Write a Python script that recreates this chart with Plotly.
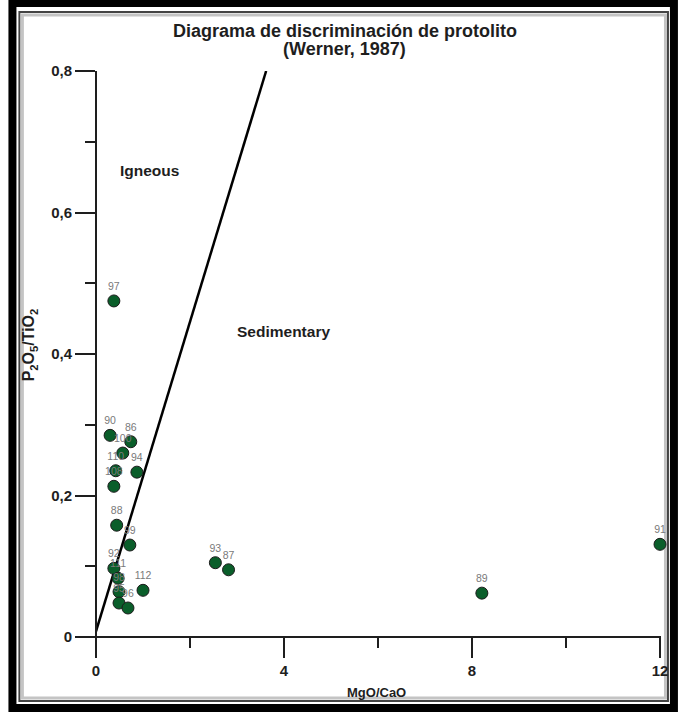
import plotly.graph_objects as go

# Sample ratios: MgO/CaO (x) and P2O5/TiO2 (y)
samples = ["97", "90", "86", "100", "110", "94", "108", "88", "99", "92",
           "111", "98", "95", "96", "112", "93", "87", "89", "91"]
mgo_cao = [0.38, 0.30, 0.74, 0.57, 0.42, 0.87, 0.38, 0.44, 0.72, 0.38,
           0.47, 0.49, 0.49, 0.68, 1.00, 2.54, 2.82, 8.21, 12.0]
p2o5_tio2 = [0.475, 0.285, 0.276, 0.260, 0.235, 0.233, 0.213, 0.158, 0.130, 0.097,
             0.083, 0.064, 0.048, 0.041, 0.066, 0.105, 0.095, 0.062, 0.131]

# Igneous / sedimentary discrimination boundary (Werner, 1987)
boundary_x = [0.0, 3.62]
boundary_y = [0.008, 0.80]

# Axis ticks
x_ticks = [0, 4, 8, 12]
y_ticks = [0, 0.2, 0.4, 0.6, 0.8]
y_tick_text = ["0", "0,2", "0,4", "0,6", "0,8"]

W, H = 680, 715
L, R, T, B = 96, 17, 71, 78
PW, PH = W - L - R, H - T - B


def px(xp):
    return (xp - L) / PW


def py(yp):
    return (H - B - yp) / PH


FONT = "Liberation Sans, Arial, sans-serif"
INK = "#1e1e1e"

fig = go.Figure()

fig.add_trace(go.Scatter(
    x=boundary_x, y=boundary_y, mode="lines",
    line=dict(color="black", width=2.5), hoverinfo="skip", showlegend=False,
))

fig.add_trace(go.Scatter(
    x=mgo_cao, y=p2o5_tio2, mode="markers+text",
    text=samples, textposition="top center",
    textfont=dict(family=FONT, size=10.5, color="#7a7a7a"),
    marker=dict(size=12, color="#0a5e2a", line=dict(color="#1c1c1c", width=1)),
    cliponaxis=False, showlegend=False,
))

axis_common = dict(
    showgrid=False, zeroline=False, showline=False,
    ticks="outside", tickwidth=2, tickcolor=INK, ticklen=20,
    tickfont=dict(family=FONT, size=15, color=INK, weight="bold"),
)

fig.update_xaxes(
    range=[0, 12], tickvals=x_ticks, ticktext=[str(v) for v in x_ticks],
    minor=dict(ticks="outside", dtick=2, tick0=0, ticklen=10, tickwidth=2, tickcolor=INK),
    **axis_common,
)
fig.update_yaxes(
    range=[0, 0.8], tickvals=y_ticks, ticktext=y_tick_text,
    minor=dict(ticks="outside", dtick=0.1, tick0=0, ticklen=10, tickwidth=2, tickcolor=INK),
    **axis_common,
)

shapes = [
    # axis lines, extended past the origin by one major tick length
    dict(type="line", xref="paper", yref="paper", x0=px(76), x1=px(664), y0=0, y1=0,
         line=dict(color=INK, width=2)),
    dict(type="line", xref="paper", yref="paper", x0=0, x1=0, y0=py(657), y1=1,
         line=dict(color=INK, width=2)),
    # outer black frame
    dict(type="rect", xref="paper", yref="paper", layer="below",
         x0=px(12), x1=px(677), y0=py(708), y1=py(3),
         line=dict(color="black", width=8)),
    # inner bevel lines
    dict(type="rect", xref="paper", yref="paper", layer="below",
         x0=px(19), x1=px(671), y0=py(701), y1=py(12),
         line=dict(color="#444", width=2)),
    dict(type="rect", xref="paper", yref="paper", layer="below",
         x0=px(22), x1=px(668.5), y0=py(698), y1=py(15),
         line=dict(color="#c4c4c4", width=3)),
]

annotations = [
    dict(text="<b>Diagrama de discriminación de protolito</b>",
         xref="paper", yref="paper", x=px(346), y=py(31), yanchor="middle",
         showarrow=False, font=dict(family=FONT, size=18, color=INK)),
    dict(text="<b>(Werner, 1987)</b>",
         xref="paper", yref="paper", x=px(346), y=py(49), yanchor="middle",
         showarrow=False, font=dict(family=FONT, size=18, color=INK)),
    dict(text="<b>MgO/CaO</b>", xref="paper", yref="paper", x=px(378), y=py(692),
         yanchor="middle", showarrow=False, font=dict(family=FONT, size=13, color=INK)),
    dict(text="<b>P<sub>2</sub>O<sub>5</sub>/TiO<sub>2</sub></b>", xref="paper", yref="paper",
         x=px(29), y=py(345), xanchor="center", yanchor="middle", textangle=-90,
         showarrow=False, font=dict(family=FONT, size=16, color=INK)),
    dict(text="<b>Igneous</b>", x=1.14, y=0.66, xref="x", yref="y", showarrow=False,
         font=dict(family=FONT, size=15.5, color=INK)),
    dict(text="<b>Sedimentary</b>", x=3.98, y=0.432, xref="x", yref="y", showarrow=False,
         font=dict(family=FONT, size=15.5, color=INK)),
]

fig.update_layout(
    width=W, height=H,
    margin=dict(l=L, r=R, t=T, b=B),
    paper_bgcolor="white", plot_bgcolor="white",
    shapes=shapes, annotations=annotations,
    separators=",.",
)

fig.write_html("out.html")
